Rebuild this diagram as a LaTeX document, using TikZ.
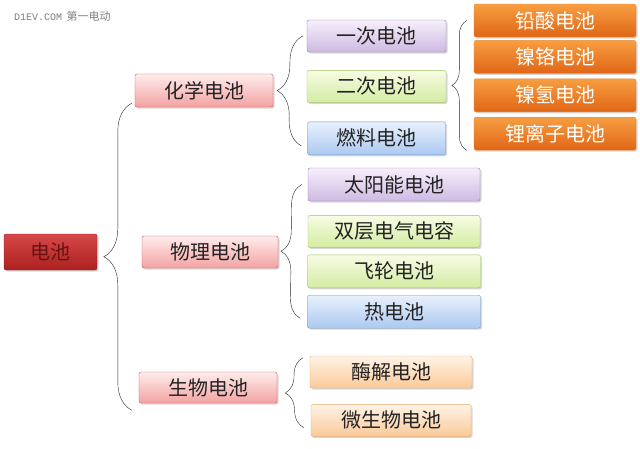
\documentclass[tikz,border=0pt]{standalone}
\usepackage{fontspec}
\setmainfont{Noto Sans CJK SC}
\newfontfamily\wmfont{Liberation Mono}
\usepackage{tikz}
\usetikzlibrary{positioning,shadows,decorations.pathreplacing}
\definecolor{battext}{RGB}{35,35,35}
\definecolor{roottop}{RGB}{214,72,72}
\definecolor{rootbot}{RGB}{172,32,32}
\definecolor{rootline}{RGB}{150,35,35}
\definecolor{roottext}{RGB}{105,18,18}
\definecolor{pinktop}{RGB}{255,236,236}
\definecolor{pinkbot}{RGB}{243,162,162}
\definecolor{pinkline}{RGB}{205,85,85}
\definecolor{purpletop}{RGB}{246,239,251}
\definecolor{purplebot}{RGB}{206,186,226}
\definecolor{purpleline}{RGB}{150,122,182}
\definecolor{greentop}{RGB}{247,252,228}
\definecolor{greenbot}{RGB}{212,236,162}
\definecolor{greenline}{RGB}{162,196,102}
\definecolor{bluetop}{RGB}{232,241,252}
\definecolor{bluebot}{RGB}{172,201,240}
\definecolor{blueline}{RGB}{112,150,210}
\definecolor{orangetop}{RGB}{247,158,66}
\definecolor{orangebot}{RGB}{224,102,22}
\definecolor{orangeline}{RGB}{238,140,60}
\definecolor{peachtop}{RGB}{255,243,231}
\definecolor{peachbot}{RGB}{250,202,152}
\definecolor{peachline}{RGB}{230,172,112}
\tikzset{
    batbox/.style={rounded corners=2pt, align=center, inner sep=0pt,
        minimum height=32pt, text=battext,
        drop shadow={opacity=.3, shadow xshift=1.5pt, shadow yshift=-1.5pt}},
    rootbox/.style={batbox, draw=rootline, top color=roottop,
        bottom color=rootbot, text=roottext},
    kindbox/.style={batbox, draw=pinkline, top color=pinktop, bottom color=pinkbot},
    purplebox/.style={batbox, draw=purpleline, top color=purpletop, bottom color=purplebot},
    greenbox/.style={batbox, draw=greenline, top color=greentop, bottom color=greenbot},
    bluebox/.style={batbox, draw=blueline, top color=bluetop, bottom color=bluebot},
    orangebox/.style={batbox, draw=orangeline, top color=orangetop,
        bottom color=orangebot, text=white},
    peachbox/.style={batbox, draw=peachline, top color=peachtop, bottom color=peachbot},
    batbrace/.style={decorate, decoration={brace, amplitude=#1}, thin, black!85},
    batbrace/.default=20pt
}

\begin{document}
\begin{tikzpicture}[x=1pt, y=-1pt, font=\fontsize{20}{22}\selectfont]
        \useasboundingbox[fill=white] (0,0) rectangle (640,448);

        \node[anchor=west, text=black!50, inner sep=0pt] (mark) at (14,16)
            {{\wmfont\fontsize{10}{12}\selectfont D1EV.COM} {\fontsize{11}{12}\selectfont 第一电动}};

        \node[rootbox, minimum width=93pt, minimum height=36pt] (dianchi) at (50.5,252) {电池};

        \node[kindbox, minimum width=138pt, minimum height=33pt] (huaxue) at (204,90.5) {化学电池};
        \node[kindbox, minimum width=136pt] (wuli) at (210,252) {物理电池};
        \node[kindbox, minimum width=138pt, minimum height=31pt] (shengwu) at (208,387.5) {生物电池};

        \node[purplebox, minimum width=139pt] (yici) at (376.5,36) {一次电池};
        \node[greenbox, minimum width=139pt, below=18pt of yici] (erci) {二次电池};
        \node[bluebox, minimum width=138pt, minimum height=33pt, below=19pt of erci] (ranliao) {燃料电池};

        \node[orangebox, minimum width=162pt, minimum height=33pt] (qiansuan) at (555,20.5) {铅酸电池};
        \node[orangebox, minimum width=162pt, minimum height=33pt, below=3pt of qiansuan] (niege) {镍铬电池};
        \node[orangebox, minimum width=162pt, minimum height=33pt, below=5pt of niege] (nieqing) {镍氢电池};
        \node[orangebox, minimum width=162pt, minimum height=33pt, below=5pt of nieqing] (lizi) {锂离子电池};

        \node[purplebox, minimum width=172pt, minimum height=33pt] (taiyang) at (394,184.5) {太阳能电池};
        \node[greenbox, minimum width=172pt, below=14pt of taiyang] (shuangceng) {双层电气电容};
        \node[greenbox, minimum width=173pt, minimum height=33pt, below=7pt of shuangceng] (feilun) {飞轮电池};
        \node[bluebox, minimum width=173pt, minimum height=33pt, below=7pt of feilun] (re) {热电池};

        \node[peachbox, minimum width=162pt] (meijie) at (391,372) {酶解电池};
        \node[peachbox, minimum width=160pt, below=16pt of meijie] (weishengwu) {微生物电池};

        \draw[batbrace=28pt] ([xshift=-7pt,yshift=-7pt]shengwu.south west)
            -- ([xshift=-3pt,yshift=4pt]huaxue.south west);
        \draw[batbrace=25pt] ([xshift=-6pt,yshift=-7.5pt]ranliao.west)
            -- ([xshift=-4pt]yici.west);
        \draw[batbrace=15pt] ([xshift=-7pt]lizi.south west)
            -- ([xshift=-7pt]qiansuan.west);
        \draw[batbrace=20pt] ([xshift=-7pt,yshift=10pt]re.south west)
            -- ([xshift=-6pt]taiyang.west);
        \draw[batbrace=18pt] ([xshift=-7pt,yshift=9pt]weishengwu.south west)
            -- ([xshift=-7pt,yshift=-2pt]meijie.north west);
    \end{tikzpicture}
\end{document}
